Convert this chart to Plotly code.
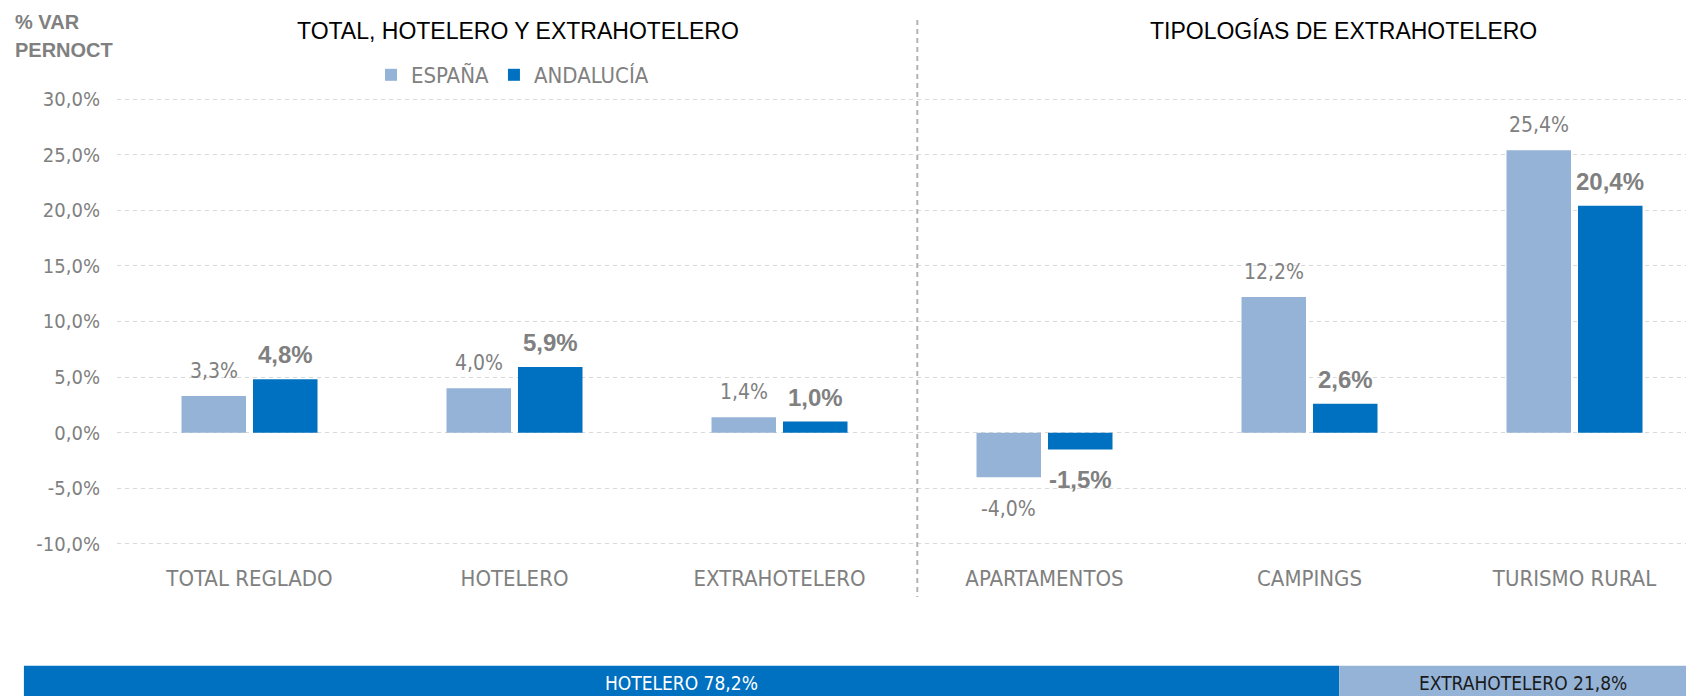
import plotly.graph_objects as go

# ---- data ----
categories = ["TOTAL REGLADO", "HOTELERO", "EXTRAHOTELERO", "APARTAMENTOS", "CAMPINGS", "TURISMO RURAL"]
espana = [3.3, 4.0, 1.4, -4.0, 12.2, 25.4]
andalucia = [4.8, 5.9, 1.0, -1.5, 2.6, 20.4]
series_names = ["ESPAÑA", "ANDALUCÍA"]
ytick_vals = [-10, -5, 0, 5, 10, 15, 20, 25, 30]
ytick_text = ["-10,0%", "-5,0%", "0,0%", "5,0%", "10,0%", "15,0%", "20,0%", "25,0%", "30,0%"]
share_names = ["HOTELERO", "EXTRAHOTELERO"]
share_values = [78.2, 21.8]
section_titles = ["TOTAL, HOTELERO Y EXTRAHOTELERO", "TIPOLOGÍAS DE EXTRAHOTELERO"]

# ---- style ----
W, H = 1686, 696
C_ES = "#95B3D7"
C_AN = "#0070C0"
GRAY = "#808080"
NARROW = "DejaVu Sans Condensed, Liberation Sans Narrow, sans-serif"
SANS = "Liberation Sans, Arial, sans-serif"

px_left = 117
px_per_cat = 265.0
x_range = [-0.5, -0.5 + (W - px_left) / px_per_cat]
# y: 0% at 432.7px, 11.12 px per unit
y0_px, y_scale = 432.7, 11.12
y_range = [-10.6, 30.6]
y_top_px = y0_px - y_range[1] * y_scale
y_bot_px = y0_px - y_range[0] * y_scale
bar_w = 64.5 / px_per_cat
gap = 7.0 / px_per_cat
# category labels: centre ~575px
x_standoff = int(round(563 - y_bot_px))

def fmt(v):
    return f"{v:.1f}%".replace(".", ",")

xs = list(range(len(categories)))

fig = go.Figure()
fig.add_trace(go.Bar(
    x=xs, y=espana, name=series_names[0], marker=dict(color=C_ES, line=dict(width=0)),
    width=bar_w, offset=-gap / 2 - bar_w, xaxis="x", yaxis="y",
))
fig.add_trace(go.Bar(
    x=xs, y=andalucia, name=series_names[1], marker=dict(color=C_AN, line=dict(width=0)),
    width=bar_w, offset=gap / 2, xaxis="x", yaxis="y",
))

# bottom share bar
cum = 0
share_colors = [C_AN, C_ES]
share_text_colors = ["white", "#1a1a1a"]
for name, val, col in zip(share_names, share_values, share_colors):
    fig.add_trace(go.Bar(
        x=[val], y=[0], base=[cum], orientation="h", marker=dict(color=col, line=dict(width=0)),
        width=1, showlegend=False, xaxis="x2", yaxis="y2", hoverinfo="skip",
    ))
    cum += val

annotations = []
# data labels
off = (gap / 2 + bar_w / 2)
for i, (e, a) in enumerate(zip(espana, andalucia)):
    for v, dx, bold in ((e, -off, False), (a, off, True)):
        annotations.append(dict(
            x=i + dx, y=v, xref="x", yref="y", text=fmt(v), showarrow=False,
            yanchor="bottom" if v >= 0 else "top",
            yshift=(11 if not bold else 9) if v >= 0 else (-15 if bold else -18),
            font=dict(family=SANS if bold else NARROW, size=24 if bold else 21,
                      color=GRAY, weight="bold" if bold else "normal"),
        ))

# share labels
cum = 0
for name, val, tc in zip(share_names, share_values, share_text_colors):
    annotations.append(dict(
        x=cum + val / 2, y=(H - 683) / H, xref="x2", yref="paper",
        text=f"{name} {fmt(val)}", showarrow=False, yanchor="middle",
        font=dict(family=NARROW, size=19, color=tc),
    ))
    cum += val

# y-axis title
annotations.append(dict(x=13 / W, y=1 - 22 / H, xref="paper", yref="paper", text="% VAR",
                        showarrow=False, xanchor="left", yanchor="middle",
                        font=dict(family=SANS, size=20, color=GRAY, weight="bold")))
annotations.append(dict(x=13 / W, y=1 - 50 / H, xref="paper", yref="paper", text="PERNOCT",
                        showarrow=False, xanchor="left", yanchor="middle",
                        font=dict(family=SANS, size=20, color=GRAY, weight="bold")))
# section titles
for t, cx in zip(section_titles, [518, 1343]):
    annotations.append(dict(x=cx / W, y=1 - 31 / H, xref="paper", yref="paper", text=t,
                            showarrow=False, xanchor="center", yanchor="middle",
                            font=dict(family=SANS, size=23, color="black")))

shapes = [dict(type="line", xref="x", yref="paper", x0=2.52, x1=2.52,
               y0=1 - 20 / H, y1=1 - 597 / H,
               line=dict(color="#b3b3b3", width=2, dash="5px,4px"))]

fig.update_layout(
    template="none",
    width=W, height=H, margin=dict(l=0, r=0, t=0, b=0, pad=0, autoexpand=False),
    paper_bgcolor="white", plot_bgcolor="white",
    barmode="overlay",
    showlegend=True,
    legend=dict(orientation="h", x=371 / W, y=1 - 75 / H, xanchor="left", yanchor="middle",
                font=dict(family=NARROW, size=22, color=GRAY), itemwidth=30,
                bgcolor="rgba(0,0,0,0)", traceorder="normal", borderwidth=0),
    xaxis=dict(domain=[px_left / W, 1], range=x_range, tickmode="array", tickvals=xs,
               ticktext=categories, showgrid=False, zeroline=False, showline=False,
               ticks="", ticklabelstandoff=x_standoff, automargin=False,
               tickfont=dict(family=NARROW, size=22, color=GRAY), fixedrange=True),
    yaxis=dict(domain=[(H - y_bot_px) / H, (H - y_top_px) / H], range=y_range,
               tickmode="array", tickvals=ytick_vals, ticktext=ytick_text,
               showgrid=True, gridcolor="#d9d9d9", griddash="4px,4px", gridwidth=1,
               zeroline=False, showline=False, ticks="", ticklabelstandoff=16, automargin=False,
               tickfont=dict(family=NARROW, size=20, color=GRAY)),
    xaxis2=dict(domain=[23.7 / W, 1], range=[0, (W - 23.7) / (1706 - 23.7) * 100],
                visible=False, anchor="y2", automargin=False),
    yaxis2=dict(domain=[0, (H - 665.6) / H], range=[-0.5, 0.5], visible=False, anchor="x2",
                automargin=False),
    annotations=annotations, shapes=shapes,
)

fig.write_html("out.html")
